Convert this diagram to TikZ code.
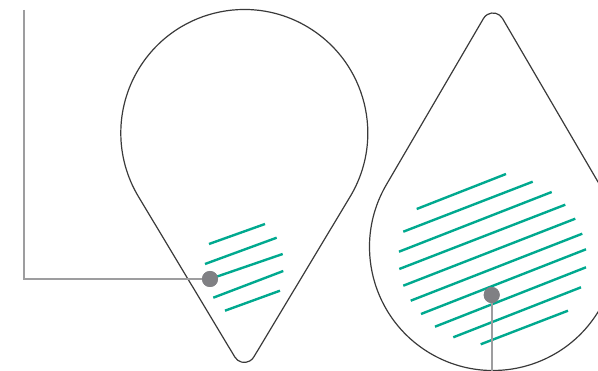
\documentclass[tikz,border=0pt]{standalone}
\usetikzlibrary{calc}
\definecolor{outlinec}{HTML}{3A3A3A}
\definecolor{hatchc}{HTML}{00A98F}
\definecolor{leadc}{HTML}{9D9D9F}
\definecolor{dotc}{HTML}{808084}
\tikzset{
  outline/.style={draw=outlinec,line width=1.2pt,line join=round},
  hatch/.style={draw=hatchc,line width=2.4pt},
  lead/.style={draw=leadc,line width=1.8pt},
  dotnode/.style={circle,fill=dotc,inner sep=0pt,minimum size=16pt}
}
\newcommand{\mydrop}[6]{%
  \pgfmathsetmacro{\dd}{#4/sin(#5)-#6/sin(#5)}%
  \pgfmathsetmacro{\tx}{-#6*cos(#5)}%
  \pgfmathsetmacro{\ty}{\dd+#6*sin(#5)}%
  \begin{scope}[shift={(#1,#2)},rotate=#3]
    \draw[outline] (#5:#4) arc[start angle=#5,end angle=-180-#5,radius=#4]
      -- (\tx,\ty) arc[start angle=180-#5,end angle=#5,radius=#6] -- cycle;
  \end{scope}}
\begin{document}
\begin{tikzpicture}[x=1pt,y=-1pt]
\useasboundingbox (0,0) rectangle (598,371);
\clip (0,0) rectangle (598,371);
% drops
\mydrop{244.3}{133}{0}{123.5}{31}{11}
\mydrop{493}{247}{180}{123.5}{30.3}{11}
% left hatching
\draw[hatch] (209,244) -- (265,224);
\draw[hatch] (205,264) -- (276.7,237.7);
\draw[hatch] (207,280) -- (282.7,254);
\draw[hatch] (213.3,297.7) -- (283.3,271);
\draw[hatch] (225,310.7) -- (280,290.7);
% right hatching
\draw[hatch] (416.7,209) -- (506,174);
\draw[hatch] (403.3,231.7) -- (532.7,181.7);
\draw[hatch] (399,251.7) -- (551.7,192);
\draw[hatch] (399.3,269) -- (565.3,204.7);
\draw[hatch] (403.3,285.7) -- (575.3,218.7);
\draw[hatch] (410.7,300.7) -- (582.3,233.7);
\draw[hatch] (421,314) -- (586,249.3);
\draw[hatch] (435,326.7) -- (586,267.3);
\draw[hatch] (453.3,337.3) -- (581,287.3);
\draw[hatch] (480.7,344.3) -- (568,310.7);
% leaders and dots
\node[dotnode] (d1) at (210,279) {};
\node[dotnode] (d2) at (491.7,295) {};
\coordinate (c1top) at (24,10);
\coordinate (c1corner) at (24,279);
\coordinate (c2end) at (491.7,372);
\draw[lead] (c1top) -- (c1corner) -- (d1);
\draw[lead] (d2) -- (c2end);
\node[dotnode] at (d1) {};
\node[dotnode] at (d2) {};
\end{tikzpicture}
\end{document}
